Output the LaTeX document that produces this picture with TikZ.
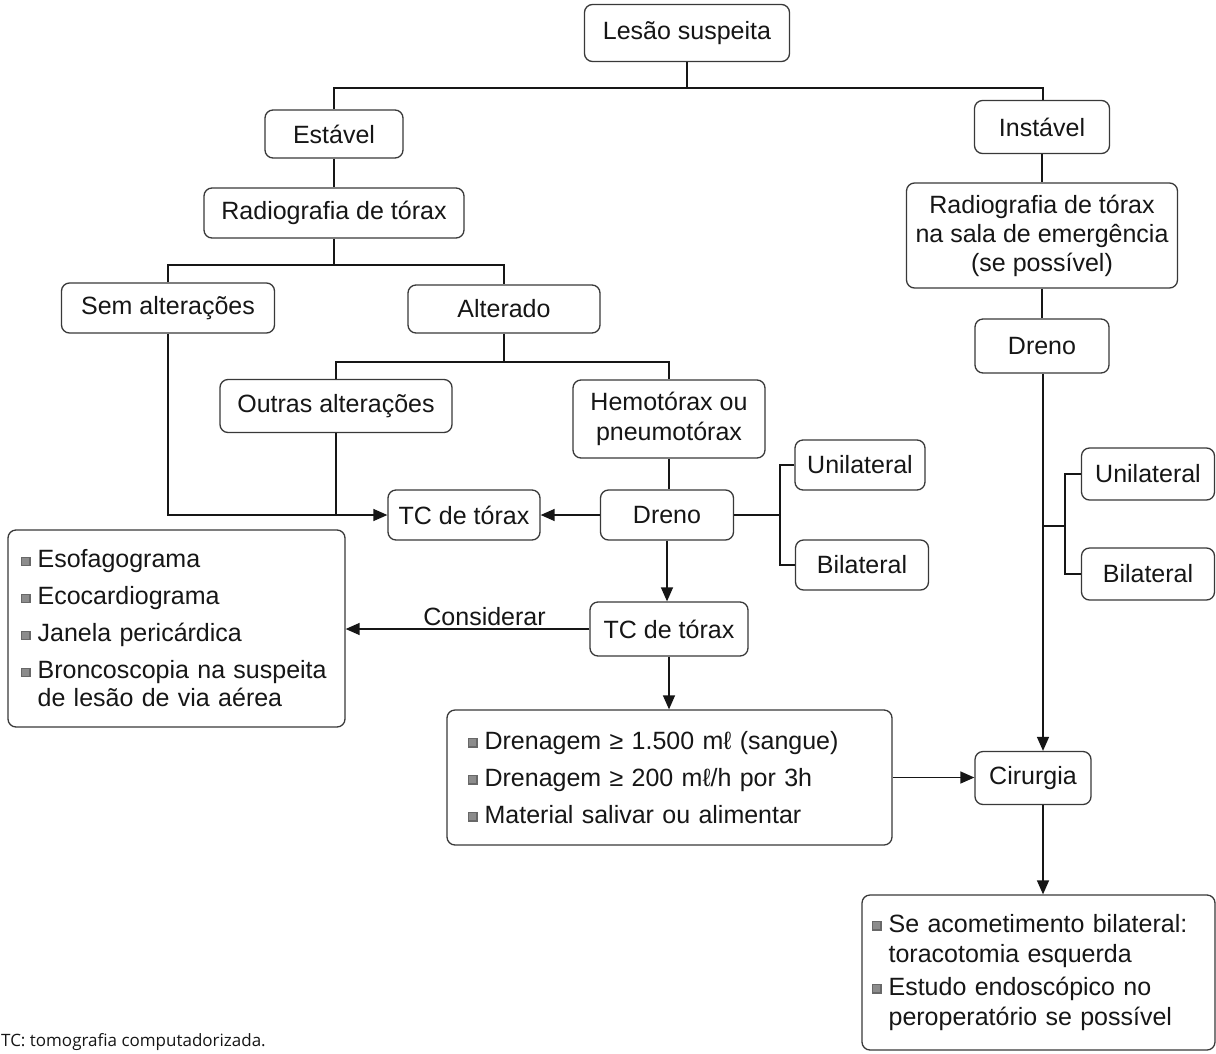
\documentclass[tikz,border=0pt]{standalone}
\usepackage{fontspec}
\setmainfont{Liberation Sans}
\newfontfamily\footfont{Open Sans}
\usetikzlibrary{arrows.meta}
\definecolor{ink}{HTML}{161616}
\definecolor{bulfill}{HTML}{8C8C8C}
\newcommand{\diafont}{\fontsize{25}{28}\selectfont}
\newcommand{\bulsq}{\raisebox{3pt}{{\setlength{\fboxsep}{0pt}\setlength{\fboxrule}{1.3pt}\fcolorbox{ink!65}{bulfill}{\rule{0pt}{7pt}\rule{7pt}{0pt}}}}\hspace{7pt}}
\newcommand{\hang}{\hspace*{16.6pt}}
\begin{document}
\begin{tikzpicture}[x=1pt,y=-1pt,
  box/.style={draw=ink!85, line width=1.3pt, rounded corners=8pt, inner sep=0pt, align=center, text=ink, font=\diafont},
  listbox/.style={box, align=left},
  arr/.style={-{Triangle[length=14pt,width=12pt]}},
  con/.style={draw=ink, line width=1.4pt}]
\useasboundingbox (0,0) rectangle (1216,1053);
\fill[white] (0,0) rectangle (1216,1053);

% nodes
\node[box, minimum width=205pt, minimum height=57pt] (lesao) at (687,33) {Lesão suspeita};
\node[box, minimum width=138pt, minimum height=48pt] (estavel) at (334,134) {Estável};
\node[box, minimum width=135pt, minimum height=53pt] (instavel) at (1042,127) {Instável};
\node[box, minimum width=260pt, minimum height=50pt] (radL) at (334,213) {Radiografia de tórax};
\node[box, minimum width=271pt, minimum height=105pt, font=\fontsize{25}{29}\selectfont] (radR) at (1042,235.5) {Radiografia de tórax\\na sala de emergência\\(se possível)};
\node[box, minimum width=213pt, minimum height=50pt] (sem) at (168,308) {Sem alterações};
\node[box, minimum width=192pt, minimum height=48pt] (alt) at (504,309) {Alterado};
\node[box, minimum width=232pt, minimum height=53pt] (outras) at (336,406) {Outras alterações};
\node[box, minimum width=192pt, minimum height=78pt, font=\fontsize{25}{30}\selectfont] (hemo) at (669,419) {Hemotórax ou\\pneumotórax};
\node[box, minimum width=152pt, minimum height=50pt] (tc1) at (464,515) {TC de tórax};
\node[box, minimum width=133pt, minimum height=50pt] (dreno1) at (667,515) {Dreno};
\node[box, minimum width=130pt, minimum height=50pt] (uni1) at (860,465) {Unilateral};
\node[box, minimum width=133pt, minimum height=50pt] (bi1) at (862,565) {Bilateral};
\node[box, minimum width=134pt, minimum height=54pt] (dreno2) at (1042,346) {Dreno};
\node[box, minimum width=133pt, minimum height=52pt] (uni2) at (1148,474) {Unilateral};
\node[box, minimum width=133pt, minimum height=52pt] (bi2) at (1148,574) {Bilateral};
\node[box, minimum width=158pt, minimum height=54pt] (tc2) at (669,629) {TC de tórax};
\node[listbox, minimum width=337pt, minimum height=197pt, text width=311pt, inner xsep=13pt] (esof) at (176.5,628.5)
  {\bulsq Esofagograma\\[9pt]
   \bulsq Ecocardiograma\\[9pt]
   \bulsq Janela pericárdica\\[9pt]
   \bulsq Broncoscopia na suspeita\\
   \hang de lesão de via aérea};
\node[listbox, minimum width=445pt, minimum height=135pt, text width=403pt, inner xsep=21pt] (dren) at (669.5,777.5)
  {\bulsq Drenagem ≥ 1.500 mℓ (sangue)\\[9pt]
   \bulsq Drenagem ≥ 200 mℓ/h por 3h\\[9pt]
   \bulsq Material salivar ou alimentar};
\node[box, minimum width=116pt, minimum height=53pt] (cir) at (1033,778) {Cirurgia};
\node[listbox, minimum width=353pt, minimum height=155pt, text width=333pt, inner xsep=10pt, font=\fontsize{25}{30}\selectfont] (final) at (1038.5,972.5)
  {\bulsq Se acometimento bilateral:\\
   \hang toracotomia esquerda\\[3pt]
   \bulsq Estudo endoscópico no\\
   \hang peroperatório se possível};
\node[anchor=base west, inner sep=0pt, text=ink, font=\footfont\fontsize{17}{20}\selectfont] (foot) at (1,1046) {TC: tomografia computadorizada.};

% helper coordinates
\coordinate (colx) at (1043,0);
\coordinate (j1) at (687,88);
\coordinate (j2) at (334,265);
\coordinate (j3) at (504,362);
\coordinate (j4) at (780,515);
\coordinate (j5) at (1043,526);
\coordinate (j6) at (1065,526);

% connectors
\draw[con] (lesao.south) -- (j1);
\draw[con] (estavel.north) |- (j1) -| (instavel.north -| colx);
\draw[con] (estavel.south) -- (radL.north);
\draw[con] (radL.south) -- (j2);
\draw[con] (sem.north) |- (j2) -| (alt.north);
\draw[con] (alt.south) -- (j3);
\draw[con] (outras.north) |- (j3) -| (hemo.north);
\draw[con,arr] (sem.south) |- (tc1.west);
\draw[con] (outras.south) -- (outras.south |- tc1.west);
\draw[con] (hemo.south) -- (hemo.south |- dreno1.north);
\draw[con,arr] (dreno1.west) -- (tc1.east);
\draw[con] (dreno1.east) -- (j4);
\draw[con] (uni1.west) -| (j4) |- (bi1.west);
\draw[con,arr] (dreno1.south) -- (dreno1.south |- tc2.north);
\draw[con,arr] (tc2.west) -- node[above=3pt, pos=0.43, inner sep=0pt, text=ink, font=\diafont] (consid) {Considerar} (tc2.west -| esof.east);
\draw[con,arr] (tc2.south) -- (tc2.south |- dren.north);
\draw[con,arr] (dren.east) -- (dren.east -| cir.west);
\draw[con] (instavel.south) -- (radR.north);
\draw[con] (radR.south) -- (dreno2.north);
\draw[con,arr] (dreno2.south -| colx) -- (cir.north -| colx);
\draw[con] (j5) -- (j6);
\draw[con] (uni2.west) -| (j6) |- (bi2.west);
\draw[con,arr] (cir.south -| colx) -- (final.north -| colx);
\end{tikzpicture}
\end{document}
